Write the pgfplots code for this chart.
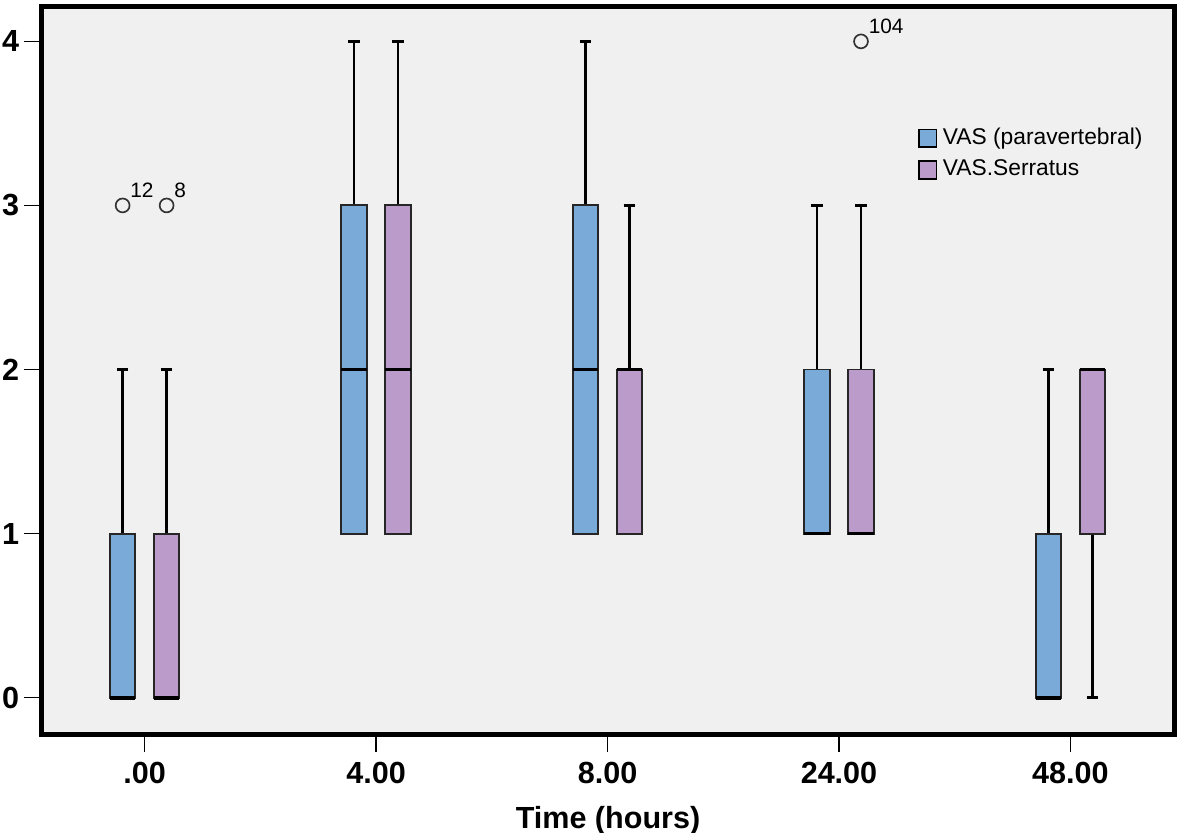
\documentclass[border=0pt]{standalone}
\usepackage{fontspec}
\setmainfont{Liberation Sans}
\usepackage{pgfplots}
\pgfplotsset{compat=1.18}
\usepgfplotslibrary{statistics}
\definecolor{bgc}{RGB}{240,240,240}
\definecolor{bluebox}{RGB}{122,170,215}
\definecolor{purplebox}{RGB}{186,155,201}
\begin{document}
\begin{tikzpicture}
\begin{axis}[
  scale only axis, width=408pt, height=262pt,
  xmin=-0.446, xmax=4.45, ymin=-0.226, ymax=4.21,
  axis background/.style={fill=bgc},
  axis line style={line width=1.8pt},
  xtick={0,1,2,3,4}, xticklabels={.00,4.00,8.00,24.00,48.00},
  ytick={0,1,2,3,4},
  tick align=outside, xtick pos=bottom, ytick pos=left,
  major tick length=6.3pt,
  tick style={line width=0.6pt, black},
  ticklabel style={font=\bfseries\fontsize{11}{13}\selectfont},
  yticklabel style={inner xsep=1.5pt},
  /pgf/number format/assume math mode=true,
  xlabel={Time (hours)},
  xlabel style={font=\bfseries\fontsize{11}{13}\selectfont, yshift=-1.5pt},
  clip=false,
  boxplot/draw direction=y,
  boxplot/box extend=0.11,
  boxplot/whisker extend=0.05,
  boxplot/every median/.style={line width=1.4pt, black},
  boxplot/every whisker/.style={line width=0.9pt, black},
  boxplot/every box/.style={draw=black!85, line width=0.7pt},
  legend style={at={(0.7735,0.842)}, anchor=north west, draw=none, fill=none,
    font=\fontsize{8.2}{9.6}\selectfont, inner sep=0pt, row sep=0pt},
  legend cell align=left,
  legend image code/.code={\draw[#1] (0pt,-3.2pt) rectangle (6.2pt,3.2pt);},
]
% .00
\addplot[forget plot, fill=bluebox, boxplot prepared={draw position=-0.095,
  lower whisker=0, lower quartile=0, median=0, upper quartile=1, upper whisker=2}] coordinates {};
\addplot[forget plot, fill=purplebox, boxplot prepared={draw position=0.095,
  lower whisker=0, lower quartile=0, median=0, upper quartile=1, upper whisker=2}] coordinates {};
% 4.00
\addplot[forget plot, fill=bluebox, boxplot prepared={draw position=0.905,
  lower whisker=1, lower quartile=1, median=2, upper quartile=3, upper whisker=4}] coordinates {};
\addplot[forget plot, fill=purplebox, boxplot prepared={draw position=1.095,
  lower whisker=1, lower quartile=1, median=2, upper quartile=3, upper whisker=4}] coordinates {};
% 8.00
\addplot[forget plot, fill=bluebox, boxplot prepared={draw position=1.905,
  lower whisker=1, lower quartile=1, median=2, upper quartile=3, upper whisker=4}] coordinates {};
\addplot[forget plot, fill=purplebox, boxplot prepared={draw position=2.095,
  lower whisker=1, lower quartile=1, median=2, upper quartile=2, upper whisker=3}] coordinates {};
% 24.00
\addplot[forget plot, fill=bluebox, boxplot prepared={draw position=2.905,
  lower whisker=1, lower quartile=1, median=1, upper quartile=2, upper whisker=3}] coordinates {};
\addplot[forget plot, fill=purplebox, boxplot prepared={draw position=3.095,
  lower whisker=1, lower quartile=1, median=1, upper quartile=2, upper whisker=3}] coordinates {};
% 48.00
\addplot[forget plot, fill=bluebox, boxplot prepared={draw position=3.905,
  lower whisker=0, lower quartile=0, median=0, upper quartile=1, upper whisker=2}] coordinates {};
\addplot[forget plot, fill=purplebox, boxplot prepared={draw position=4.095,
  lower whisker=0, lower quartile=1, median=2, upper quartile=2, upper whisker=2}] coordinates {};
% outliers
\addplot[forget plot, only marks, mark=o, mark size=2.5pt,
  mark options={line width=0.6pt, draw=black!80},
  nodes near coords, point meta=explicit symbolic,
  nodes near coords style={anchor=south west, font=\fontsize{7.5}{8}\selectfont,
    inner sep=0pt, xshift=2.5pt, yshift=2.5pt}]
  coordinates {(-0.095,3)[12] (0.095,3)[8] (3.095,4)[104]};
\addlegendimage{fill=bluebox, draw=black, line width=0.6pt}
\addlegendentry{VAS (paravertebral)}
\addlegendimage{fill=purplebox, draw=black, line width=0.6pt}
\addlegendentry{VAS.Serratus}
\coordinate (bl) at (rel axis cs:0,0);
\coordinate (tr) at (rel axis cs:1,1);
\end{axis}
\pgfresetboundingbox
\path ([shift={(-14.9pt,-35.3pt)}]bl) rectangle ([shift={(2.3pt,2.5pt)}]tr);
\end{tikzpicture}
\end{document}
